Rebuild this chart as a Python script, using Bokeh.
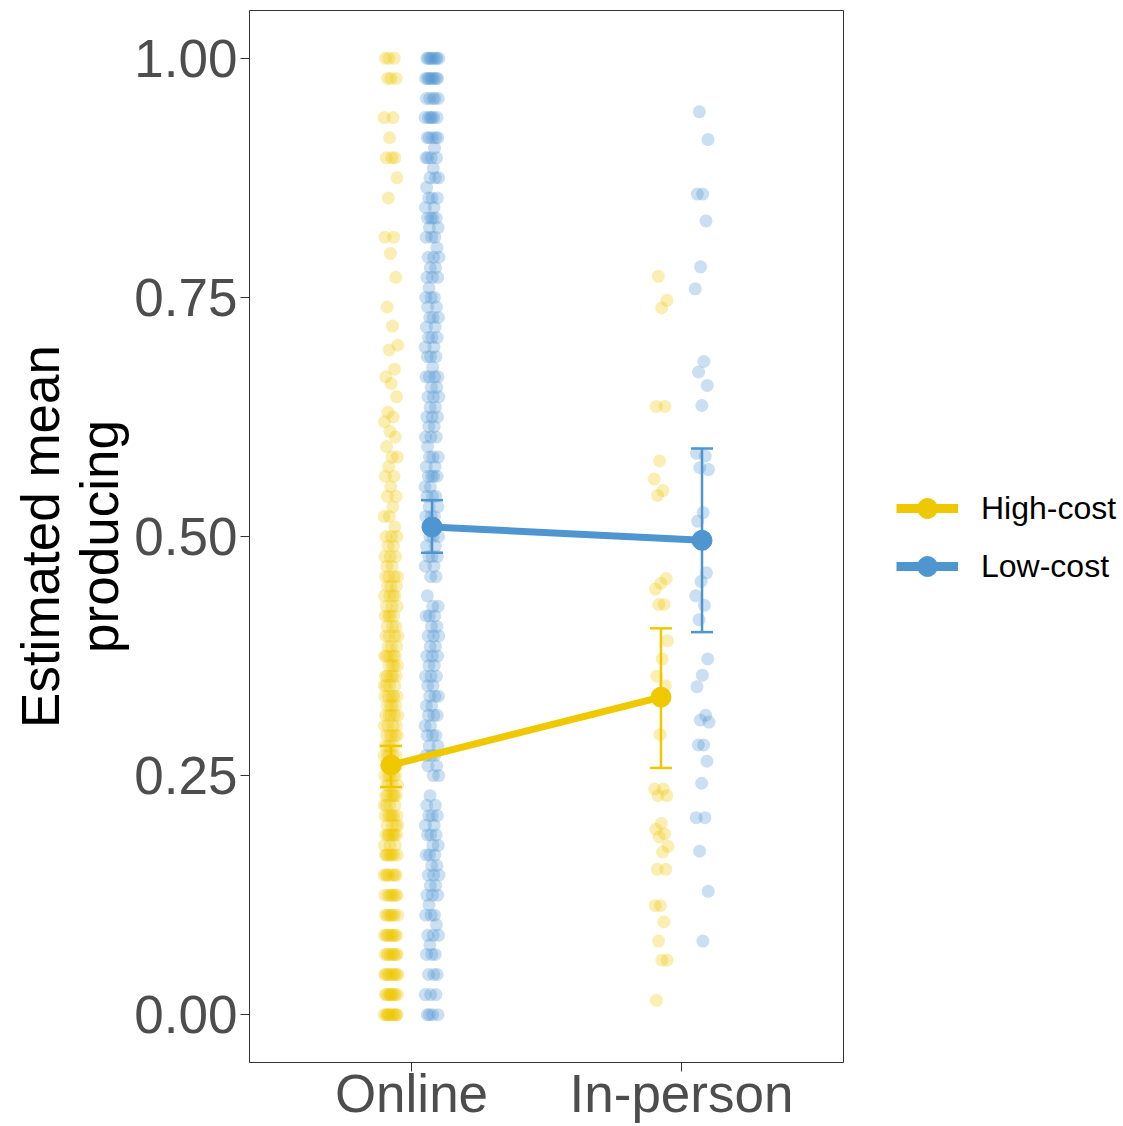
import numpy as np
from bokeh.plotting import figure
from bokeh.layouts import row
from bokeh.models import Range1d, FixedTicker, Legend, LegendItem, Whisker, ColumnDataSource, TeeHead
from bokeh.embed import file_html
from bokeh.resources import INLINE

# ---- data -------------------------------------------------------------
conditions = ["Online", "In-person"]
condition_pos = [1, 2]
cost_groups = ["High-cost", "Low-cost"]
y_ticks = [0.0, 0.25, 0.5, 0.75, 1.0]
y_tick_labels = ["0.00", "0.25", "0.50", "0.75", "1.00"]

# model-estimated means with interval bounds (Online, In-person)
high_mean = [0.261, 0.332]
high_lower = [0.238, 0.258]
high_upper = [0.281, 0.404]
low_mean = [0.510, 0.496]
low_lower = [0.483, 0.400]
low_upper = [0.538, 0.592]

# per-participant proportions, online sample (value levels with counts)
online_high_levels = [0.000, 0.021, 0.042, 0.063, 0.083, 0.104, 0.125, 0.146, 0.167, 0.177,
                      0.188, 0.198, 0.208, 0.219, 0.229, 0.240, 0.250, 0.260, 0.271, 0.281,
                      0.292, 0.302, 0.313, 0.323, 0.333, 0.344, 0.354, 0.365, 0.375, 0.385,
                      0.396, 0.406, 0.417, 0.427, 0.438, 0.448, 0.458, 0.469, 0.479, 0.490,
                      0.500, 0.510, 0.521, 0.531, 0.542, 0.552, 0.563, 0.573, 0.583, 0.594,
                      0.604, 0.610, 0.620, 0.625, 0.630, 0.646, 0.660, 0.667, 0.675, 0.695,
                      0.700, 0.720, 0.740, 0.771, 0.796, 0.813, 0.854, 0.875, 0.896, 0.917,
                      0.938, 0.979, 1.000]
online_high_counts = [10, 9, 9, 8, 8, 7, 7, 7, 7, 3,
                      7, 4, 6, 4, 6, 4, 5, 4, 5, 4,
                      5, 4, 5, 4, 5, 4, 5, 4, 5, 3,
                      4, 3, 4, 3, 4, 3, 4, 2, 3, 2,
                      3, 1, 2, 1, 2, 1, 2, 1, 2, 1,
                      1, 1, 1, 1, 1, 1, 1, 1, 1, 1,
                      1, 1, 1, 1, 1, 2, 1, 1, 3, 1,
                      2, 3, 3]

online_low_levels = [0.000, 0.021, 0.042, 0.063, 0.073, 0.083, 0.094, 0.104, 0.115, 0.125,
                     0.135, 0.146, 0.156, 0.167, 0.177, 0.188, 0.198, 0.208, 0.219, 0.229,
                     0.250, 0.260, 0.271, 0.281, 0.292, 0.302, 0.313, 0.323, 0.333, 0.344,
                     0.354, 0.365, 0.375, 0.385, 0.396, 0.406, 0.417, 0.427, 0.438, 0.458,
                     0.469, 0.479, 0.490, 0.500, 0.510, 0.521, 0.531, 0.542, 0.552, 0.563,
                     0.573, 0.583, 0.594, 0.604, 0.615, 0.625, 0.635, 0.646, 0.656, 0.667,
                     0.677, 0.688, 0.698, 0.708, 0.719, 0.729, 0.740, 0.750, 0.760, 0.771,
                     0.781, 0.792, 0.802, 0.813, 0.823, 0.833, 0.844, 0.854, 0.865, 0.875,
                     0.885, 0.896, 0.906, 0.917, 0.938, 0.958, 0.979, 1.000]
online_low_counts = [4, 3, 3, 3, 1, 3, 1, 3, 1, 3,
                     2, 3, 2, 3, 2, 3, 2, 3, 2, 1,
                     2, 2, 3, 2, 3, 2, 3, 2, 3, 2,
                     3, 2, 3, 2, 3, 2, 3, 2, 1, 2,
                     2, 3, 2, 3, 2, 3, 2, 3, 2, 4,
                     2, 3, 1, 3, 2, 3, 2, 3, 2, 4,
                     1, 3, 2, 3, 2, 3, 2, 3, 1, 3,
                     2, 3, 1, 3, 2, 4, 2, 3, 1, 3,
                     1, 4, 1, 5, 6, 5, 8, 8]

# per-participant proportions, in-person sample
inperson_high = [0.772, 0.747, 0.739, 0.636, 0.636, 0.579, 0.560, 0.548, 0.543, 0.456,
                 0.451, 0.445, 0.429, 0.429, 0.391, 0.372, 0.354, 0.344, 0.293, 0.236,
                 0.236, 0.229, 0.229, 0.200, 0.194, 0.189, 0.186, 0.176, 0.170, 0.152,
                 0.152, 0.114, 0.114, 0.097, 0.077, 0.057, 0.057, 0.015]
inperson_low = [0.944, 0.915, 0.858, 0.858, 0.830, 0.782, 0.759, 0.683, 0.672, 0.658,
                0.637, 0.587, 0.584, 0.572, 0.570, 0.525, 0.516, 0.462, 0.453, 0.438,
                0.428, 0.413, 0.372, 0.355, 0.343, 0.313, 0.308, 0.306, 0.282, 0.282,
                0.265, 0.242, 0.206, 0.206, 0.171, 0.129, 0.077]

# ---- styling ----------------------------------------------------------
YELLOW = "#F0C800"
BLUE = "#4F96D0"
FONT = "Liberation Sans"
DODGE = 0.076
JITTER = 0.026
MEAN_LINE_W = 7
MEAN_SIZE = 20


def spread(n, half):
    """Deterministic horizontal spread of n points within +/- half."""
    frac = (np.arange(n) * 0.6180339887 + 0.31) % 1.0
    return (frac * 2.0 - 1.0) * half


p = figure(width=845, height=1126,
           x_range=Range1d(0.4, 2.6), y_range=Range1d(-0.05, 1.05),
           output_backend="svg", toolbar_location=None,
           min_border_left=249, min_border_right=2,
           min_border_top=10, min_border_bottom=64)

p.background_fill_color = "white"
p.border_fill_color = "white"
p.outline_line_color = "#333333"
p.outline_line_width = 1
p.xgrid.visible = False
p.ygrid.visible = False

# raw participant points
groups = [
    (condition_pos[0] - DODGE, np.repeat(online_high_levels, online_high_counts), YELLOW),
    (condition_pos[0] + DODGE, np.repeat(online_low_levels, online_low_counts), BLUE),
    (condition_pos[1] - DODGE, np.array(inperson_high), YELLOW),
    (condition_pos[1] + DODGE, np.array(inperson_low), BLUE),
]
for xc, vals, col in groups:
    xs = xc + spread(len(vals), JITTER)
    p.scatter(xs, vals, size=13, fill_color=col, fill_alpha=0.3, line_color=None)

# mean lines, intervals and points
for mean, lo, hi, col, off in [
    (high_mean, high_lower, high_upper, YELLOW, -DODGE),
    (low_mean, low_lower, low_upper, BLUE, DODGE),
]:
    xs = [c + off for c in condition_pos]
    src = ColumnDataSource(dict(x=xs, y=mean, lower=lo, upper=hi))
    p.line("x", "y", source=src, line_color=col, line_width=MEAN_LINE_W)
    wk = Whisker(base="x", lower="lower", upper="upper", source=src,
                 line_color=col, line_width=2.5,
                 upper_head=TeeHead(size=22, line_color=col, line_width=2.5),
                 lower_head=TeeHead(size=22, line_color=col, line_width=2.5))
    p.add_layout(wk)
    p.scatter("x", "y", source=src, size=MEAN_SIZE, fill_color=col, line_color=col)

# axes
p.xaxis.ticker = FixedTicker(ticks=condition_pos)
p.xaxis.major_label_overrides = {c: lab for c, lab in zip(condition_pos, conditions)}
p.yaxis.ticker = FixedTicker(ticks=y_ticks)
p.yaxis.major_label_overrides = {t: lab for t, lab in zip(y_ticks, y_tick_labels)}
for ax in (p.xaxis[0], p.yaxis[0]):
    ax.axis_line_color = None
    ax.major_tick_line_color = "#333333"
    ax.major_tick_line_width = 1
    ax.major_tick_out = 9
    ax.major_tick_in = 0
    ax.minor_tick_line_color = None
    ax.major_label_text_font = FONT
    ax.major_label_text_font_size = "53px"
    ax.major_label_text_color = "#4D4D4D"
p.yaxis.major_label_standoff = 3
p.xaxis.major_label_standoff = -8

p.yaxis.axis_label = "Estimated mean\nproducing"
p.yaxis.axis_label_text_font = FONT
p.yaxis.axis_label_text_font_size = "53px"
p.yaxis.axis_label_text_font_style = "normal"
p.yaxis.axis_label_text_color = "black"
p.yaxis.axis_label_text_line_height = 1.0
p.yaxis.axis_label_standoff = 2

# legend panel to the right of the chart
lg = figure(width=278, height=1126, x_range=Range1d(0, 1), y_range=Range1d(0, 1),
            output_backend="svg", toolbar_location=None,
            x_axis_type=None, y_axis_type=None,
            min_border=0, outline_line_color=None)
lg.xgrid.visible = False
lg.ygrid.visible = False
items = []
for name, col in zip(cost_groups, [YELLOW, BLUE]):
    # key-only renderers: a single undefined point, so nothing shows in the panel
    key_src = ColumnDataSource(dict(x=[np.nan], y=[np.nan]))
    key_line = lg.line("x", "y", source=key_src, line_color=col, line_width=MEAN_LINE_W + 2)
    key_dot = lg.scatter("x", "y", source=key_src, size=MEAN_SIZE, fill_color=col, line_color=col)
    items.append(LegendItem(label=name, renderers=[key_line, key_dot]))

legend = Legend(items=items, location=(51, 471),
                label_text_font=FONT, label_text_font_size="32px",
                label_text_color="black",
                glyph_width=62, glyph_height=50, spacing=8,
                label_standoff=23, padding=0, margin=0,
                border_line_color=None, background_fill_alpha=0)
lg.add_layout(legend, "center")

layout = row(p, lg, spacing=0)
open("out.html", "w").write(file_html(layout, INLINE))
